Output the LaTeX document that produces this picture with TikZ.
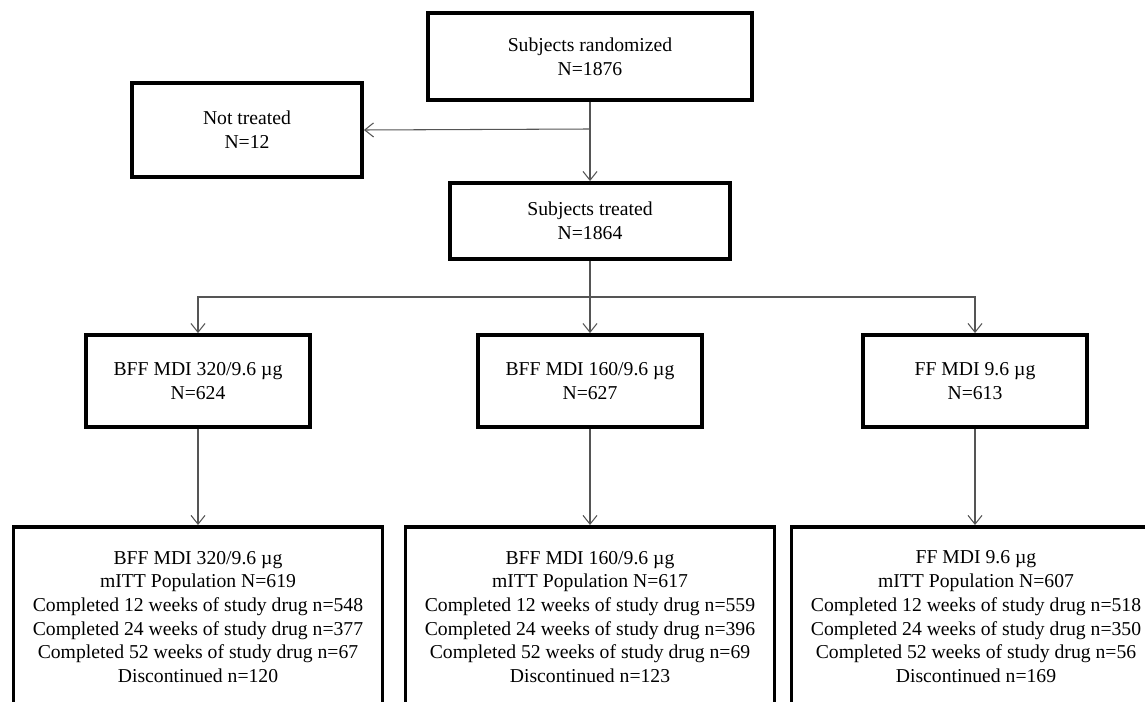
\documentclass[tikz,border=0pt]{standalone}
\usepackage{fontspec}
\setmainfont{Liberation Serif}
\usetikzlibrary{arrows.meta}
\definecolor{linkgray}{RGB}{85,85,85}
\tikzstyle{box}=[draw, line width=2.2pt, align=center, inner sep=0pt, font=\fontsize{11.2}{13.5}\selectfont]
\tikzstyle{stage}=[box, minimum width=4.48cm, minimum height=1.84cm]
\tikzstyle{result}=[box, anchor=north, minimum width=7.38cm, inner ysep=0.48cm]
\tikzset{link/.style={draw=linkgray, line width=0.6pt}}
\tikzset{flow/.style={link, -{Straight Barb[length=5pt,width=8pt]}}}

\begin{document}
\begin{tikzpicture}[x=0.02cm, y=-0.02cm]
  \useasboundingbox (0,0) rectangle (1145,702);
  \clip (0,0) rectangle (1145,702);

  \draw (590,56.5) node[box, minimum width=6.48cm, minimum height=1.74cm] (Rand) {Subjects randomized\\N=1876};
  \draw (247,130) node[box, minimum width=4.6cm, minimum height=1.88cm] (NotT) {Not treated\\N=12};
  \draw (590,221) node[box, minimum width=5.6cm, minimum height=1.52cm] (Treat) {Subjects treated\\N=1864};

  \draw (198,381) node[stage] (A1) {BFF MDI 320/9.6 µg\\N=624};
  \draw (590,381) node[stage] (A2) {BFF MDI 160/9.6 µg\\N=627};
  \draw (975,381) node[stage] (A3) {FF MDI 9.6 µg\\N=613};

  \draw (198,525) node[result] (B1) {BFF MDI 320/9.6 µg\\mITT Population N=619\\Completed 12 weeks of study drug n=548\\Completed 24 weeks of study drug n=377\\Completed 52 weeks of study drug n=67\\Discontinued n=120\\ \strut};
  \draw (590,525) node[result] (B2) {BFF MDI 160/9.6 µg\\mITT Population N=617\\Completed 12 weeks of study drug n=559\\Completed 24 weeks of study drug n=396\\Completed 52 weeks of study drug n=69\\Discontinued n=123\\ \strut};
  \draw (976,525) node[result] (B3) {FF MDI 9.6 µg\\mITT Population N=607\\Completed 12 weeks of study drug n=518\\Completed 24 weeks of study drug n=350\\Completed 52 weeks of study drug n=56\\Discontinued n=169\\ \strut};

  %% split points
  \coordinate (Split) at (590,129);
  \coordinate (Fork) at (590,297);

  \draw[flow] (Rand) -- (Treat);
  \draw[flow] (Split) -- (NotT.east);

  \draw[link] (Treat) -- (Fork);
  \draw[flow] (Fork) -| (A1.north);
  \draw[flow] (Fork) -- (A2.north);
  \draw[flow] (Fork) -| (A3.north);

  \draw[flow] (A1) -- (B1);
  \draw[flow] (A2) -- (B2);
  \draw[flow] (A3) -- (A3 |- B3.north);
\end{tikzpicture}
\end{document}
